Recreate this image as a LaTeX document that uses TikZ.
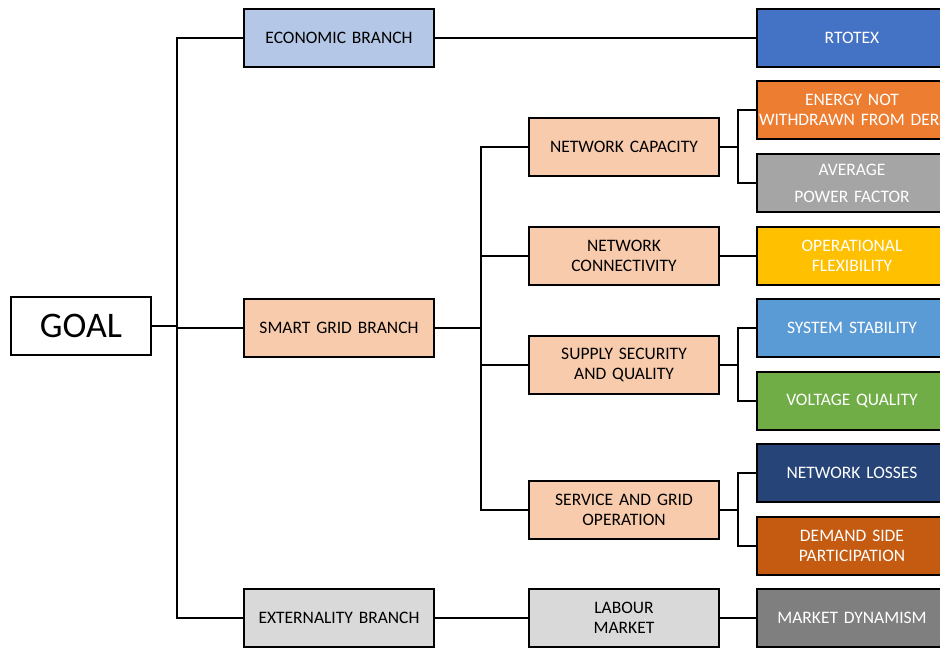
\documentclass[tikz,border=0pt]{standalone}
\usepackage{fontspec}
\setmainfont{Carlito}
\usetikzlibrary{positioning,calc}
\definecolor{econblue}{HTML}{B4C7E7}
\definecolor{smartpeach}{HTML}{F8CBAD}
\definecolor{extgray}{HTML}{D9D9D9}
\definecolor{kpiblue}{HTML}{4472C4}
\definecolor{kpiorange}{HTML}{ED7D31}
\definecolor{kpigray}{HTML}{A5A5A5}
\definecolor{kpigold}{HTML}{FFC000}
\definecolor{kpisky}{HTML}{5B9BD5}
\definecolor{kpigreen}{HTML}{70AD47}
\definecolor{kpinavy}{HTML}{264478}
\definecolor{kpirust}{HTML}{C55A11}
\definecolor{kpidark}{HTML}{7F7F7F}
\tikzset{
	tbox/.style={draw=black, line width=2.5pt, minimum width=190pt, minimum height=58pt, text width=186pt, inner xsep=2pt, inner ysep=0pt, align=center, font=\fontsize{17.5}{20}\selectfont},
	branch/.style={tbox, fill=#1, text=black},
	kpi/.style={tbox, fill=#1, text=white},
	goalbox/.style={draw=black, line width=2.5pt, fill=white, minimum width=140pt, minimum height=58pt, font=\fontsize{36}{40}\selectfont},
	edge/.style={color=black, line width=2.5pt}
}

\begin{document}
\begin{tikzpicture}[x=1pt,y=-1pt]
	\useasboundingbox (0,0) rectangle (940,649);
	
	%%Goal
	\node[goalbox] (goal) at (81,326) {GOAL};
	
	%%Branches
	\node[branch=econblue] (econ) at (339,38) {ECONOMIC BRANCH};
	\node[branch=smartpeach] (smart) at (339,328) {SMART GRID BRANCH};
	\node[branch=extgray] (ext) at (339,618) {EXTERNALITY BRANCH};
	
	%%Smart grid criteria
	\node[branch=smartpeach] (netcap) at (624,147) {NETWORK CAPACITY};
	\node[branch=smartpeach] (netconn) at (624,256) {NETWORK\\CONNECTIVITY};
	\node[branch=smartpeach] (supply) at (624,365) {SUPPLY SECURITY\\AND QUALITY};
	\node[branch=smartpeach] (service) at (624,510) {SERVICE AND GRID\\OPERATION};
	
	%%Externality criteria
	\node[branch=extgray] (labour) at (624,618) {LABOUR\\MARKET};
	
	%%Indicators
	\node[kpi=kpiblue] (rtotex) at (852,38) {RTOTEX};
	\node[kpi=kpiorange] (energy) at (852,110) {ENERGY NOT\\\mbox{WITHDRAWN FROM DERS}};
	\node[kpi=kpigray] (avgpf) at (852,183) {AVERAGE\\[7pt]POWER FACTOR};
	\node[kpi=kpigold] (opflex) at (852,256) {OPERATIONAL\\FLEXIBILITY};
	\node[kpi=kpisky] (sysstab) at (852,328) {SYSTEM STABILITY};
	\node[kpi=kpigreen] (voltage) at (852,401) {VOLTAGE QUALITY};
	\node[kpi=kpinavy] (losses) at (852,473) {NETWORK LOSSES};
	\node[kpi=kpirust] (demand) at (852,546) {DEMAND SIDE\\PARTICIPATION};
	\node[kpi=kpidark] (market) at (852,618) {MARKET DYNAMISM};
	
	%%Forks
	\coordinate (goalfork) at (177,326);
	\coordinate (smartfork) at (481,328);
	\coordinate (capfork) at (738,147);
	\coordinate (supplyfork) at (738,365);
	\coordinate (servicefork) at (738,510);
	
	%%% edges from goal to branches
	\draw[edge] (goal) -- (goalfork);
	\draw[edge] (goalfork) |- (econ);
	\draw[edge] (goalfork) |- (ext);
	\draw[edge] (goalfork |- smart) -- (smart);
	
	%%% edges from smart grid branch to criteria
	\draw[edge] (smart) -- (smartfork);
	\draw[edge] (smartfork) |- (netcap);
	\draw[edge] (smartfork) |- (netconn);
	\draw[edge] (smartfork) |- (supply);
	\draw[edge] (smartfork) |- (service);
	
	%%% edges from criteria to indicators
	\draw[edge] (econ) -- (rtotex);
	\draw[edge] (netcap) -- (capfork);
	\draw[edge] (capfork) |- (energy);
	\draw[edge] (capfork) |- (avgpf);
	\draw[edge] (netconn) -- (opflex);
	\draw[edge] (supply) -- (supplyfork);
	\draw[edge] (supplyfork) |- (sysstab);
	\draw[edge] (supplyfork) |- (voltage);
	\draw[edge] (service) -- (servicefork);
	\draw[edge] (servicefork) |- (losses);
	\draw[edge] (servicefork) |- (demand);
	
	%%% externality chain
	\draw[edge] (ext) -- (labour);
	\draw[edge] (labour) -- (market);
	
\end{tikzpicture}
\end{document}
